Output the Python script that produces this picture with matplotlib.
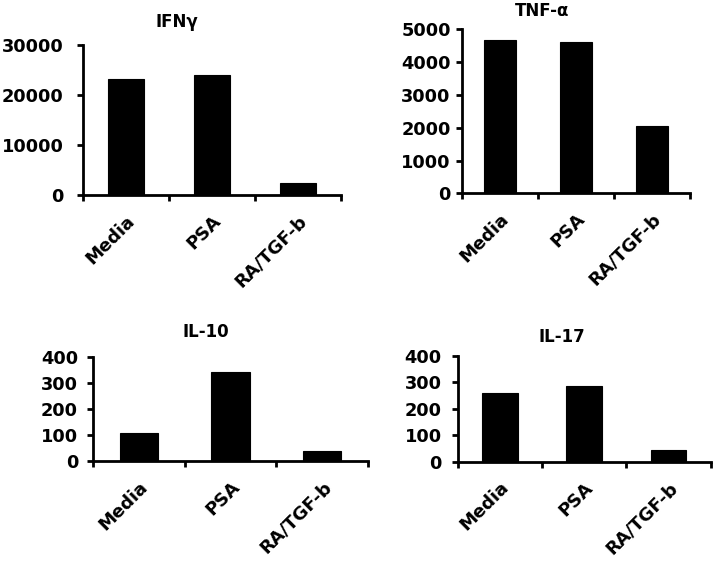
import matplotlib
matplotlib.use("Agg")
import matplotlib.pyplot as plt
from matplotlib.ticker import FixedLocator, NullFormatter

plt.rcParams['font.family'] = ['DejaVu Sans']
plt.rcParams['font.weight'] = 'bold'

groups = ["Media", "PSA", "RA/TGF-b"]
ifng = [23200, 24100, 2400]
tnfa = [4660, 4600, 2050]
il10 = [108, 340, 40]
il17 = [258, 287, 45]

panels = [
    # name, values, yticks, axes rect, title position, y label pad
    ("IFNγ", ifng, [0, 10000, 20000, 30000], [0.1162, 0.656, 0.3614, 0.2646], (0.248, 0.961), 9.5),
    ("TNF-α", tnfa, [0, 1000, 2000, 3000, 4000, 5000], [0.6467, 0.659, 0.3197, 0.2893], (0.7587, 0.981), 3.5),
    ("IL-10", il10, [0, 100, 200, 300, 400], [0.1307, 0.187, 0.3847, 0.1839], (0.2885, 0.4145), 6.5),
    ("IL-17", il17, [0, 100, 200, 300, 400], [0.641, 0.1857, 0.3544, 0.187], (0.7867, 0.406), 7),
]

fig = plt.figure(figsize=(7.14, 5.67), dpi=100)

for name, vals, yt, rect, tpos, ypad in panels:
    ax = fig.add_axes(rect)
    x = range(len(groups))
    ax.bar(x, vals, width=0.42, color="black", edgecolor="black", linewidth=0.8)
    ax.set_xlim(-0.5, len(groups) - 0.5)
    ax.set_ylim(0, yt[-1])
    ax.set_yticks(yt)
    ax.set_yticklabels([str(v) for v in yt], fontsize=12.8, fontweight='bold')
    # ticks at the category borders, labels under the bars
    ax.xaxis.set_major_locator(FixedLocator([-0.5, 0.5, 1.5, 2.5]))
    ax.xaxis.set_major_formatter(NullFormatter())
    ax.xaxis.set_minor_locator(FixedLocator(list(x)))
    ax.set_xticklabels(groups, minor=True, rotation=45, ha='right', va='top',
                       rotation_mode='anchor', fontsize=13, fontweight='bold')
    ax.tick_params(axis='x', which='minor', length=0, pad=12)
    ax.tick_params(axis='x', which='major', length=4.5, width=2, direction='out')
    ax.tick_params(axis='y', length=4.5, width=2, pad=ypad)
    for s in ["top", "right"]:
        ax.spines[s].set_visible(False)
    for s in ["left", "bottom"]:
        ax.spines[s].set_linewidth(2)
    fig.text(tpos[0], tpos[1], name, ha='center', va='center', fontsize=12, fontweight='bold')

fig.savefig("out.png", dpi=100)
